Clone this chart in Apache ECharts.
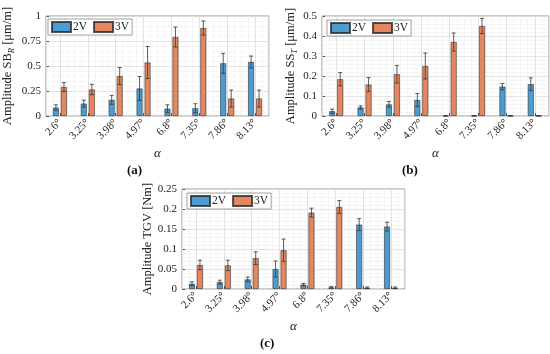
<!DOCTYPE html>
<html><head><meta charset="utf-8">
<script src="https://cdn.jsdelivr.net/npm/echarts@6/dist/echarts.min.js"></script>
<style>html,body{margin:0;padding:0;background:#fff}#c{width:550px;height:354px}</style>
</head><body><div id="c"></div>
<script>
const categories = ["2.6°","3.25°","3.98°","4.97°","6.8°","7.35°","7.86°","8.13°"];
const seriesNames = ["2V","3V"];

const sbr2 = [0.084,0.124,0.162,0.275,0.074,0.078,0.527,0.540];
const sbr2Err = [0.028,0.035,0.045,0.120,0.038,0.045,0.100,0.060];
const sbr3 = [0.290,0.265,0.400,0.535,0.790,0.880,0.175,0.175];
const sbr3Err = [0.045,0.052,0.085,0.160,0.100,0.070,0.085,0.085];

const sst2 = [0.024,0.043,0.058,0.080,0.001,0.001,0.147,0.159];
const sst2Err = [0.010,0.008,0.014,0.032,0.001,0.001,0.016,0.032];
const sst3 = [0.184,0.157,0.209,0.250,0.370,0.450,0.001,0.001];
const sst3Err = [0.033,0.035,0.044,0.065,0.045,0.038,0.001,0.001];

const tgv2 = [0.013,0.017,0.024,0.050,0.011,0.004,0.161,0.156];
const tgv2Err = [0.005,0.005,0.006,0.020,0.003,0.002,0.015,0.011];
const tgv3 = [0.060,0.059,0.077,0.097,0.191,0.205,0.003,0.003];
const tgv3Err = [0.012,0.013,0.016,0.028,0.011,0.016,0.002,0.002];

const FONT = 'Liberation Serif';
const C2 = '#4d9cd1', C3 = '#e4875e';
const BW = 6, GAP = 2;

const panels = [
  {grid:{left:46, top:16, width:223, height:100}, max:1, interval:0.25,
   name:'{t|Amplitude SB}{s|R}{t| [μm/m]}', nameGap:30,
   v2:sbr2, e2:sbr2Err, v3:sbr3, e3:sbr3Err,
   legend:{left:48, top:19}, cap:'(a)', capX:137, capY:172},
  {grid:{left:322, top:16, width:227, height:100}, max:0.5, interval:0.1,
   name:'{t|Amplitude SS}{s|T}{t| [μm/m]}', nameGap:23,
   v2:sst2, e2:sst2Err, v3:sst3, e3:sst3Err,
   legend:{left:327, top:20}, cap:'(b)', capX:412, capY:172},
  {grid:{left:182, top:189, width:223, height:100}, max:0.25, interval:0.05,
   name:'{t|Amplitude TGV [Nm]}', nameGap:28,
   v2:tgv2, e2:tgv2Err, v3:tgv3, e3:tgv3Err,
   legend:{left:187, top:193}, cap:'(c)', capX:270, capY:345}
];

function errRender(offset){
  return function(params, api){
    const c = api.value(0);
    const x = api.coord([c, 0])[0] + offset;
    const lo = api.coord([c, api.value(1)])[1];
    const hi = api.coord([c, api.value(2)])[1];
    const cw = 2;
    const st = {stroke:'#333', lineWidth:0.8};
    return {type:'group', children:[
      {type:'line', shape:{x1:x,y1:lo,x2:x,y2:hi}, style:st},
      {type:'line', shape:{x1:x-cw,y1:hi,x2:x+cw,y2:hi}, style:st},
      {type:'line', shape:{x1:x-cw,y1:lo,x2:x+cw,y2:lo}, style:st}
    ]};
  };
}

const option = {animation:false, backgroundColor:'#fff',
  grid:[], xAxis:[], yAxis:[], series:[], legend:[], graphic:[]};

panels.forEach((p, k) => {
  option.grid.push(Object.assign({show:true, borderColor:'#7a7a7a', borderWidth:0.8, backgroundColor:'#fff'}, p.grid));
  // category axis
  option.xAxis.push({type:'category', gridIndex:k, data:categories,
    name:'α', nameLocation:'middle', nameGap:31,
    nameTextStyle:{fontFamily:FONT, fontStyle:'italic', fontSize:13, color:'#222'},
    axisLine:{show:false},
    axisTick:{show:true, alignWithLabel:true, inside:true, length:3, lineStyle:{color:'#555'}},
    splitLine:{show:true, alignWithLabel:true, lineStyle:{color:'#dcdcdc', width:0.8}},
    axisLabel:{rotate:45, margin:5, fontFamily:FONT, fontSize:11, color:'#222'},
    z:3});
  // minor vertical grid helper
  option.xAxis.push({type:'value', gridIndex:k, min:0, max:8, interval:0.25, show:true,
    position:'top', axisLine:{show:false}, axisTick:{show:false}, axisLabel:{show:false},
    splitLine:{show:true, lineStyle:{color:'#eeeeee', width:0.6}}, z:1});
  option.yAxis.push({type:'value', gridIndex:k, min:0, max:p.max, interval:p.interval,
    name:p.name, nameLocation:'middle', nameRotate:90, nameGap:p.nameGap,
    nameTextStyle:{rich:{
      t:{fontFamily:FONT, fontSize:12.5, color:'#222'},
      s:{fontFamily:FONT, fontSize:8.5, color:'#222', fontStyle:'italic', verticalAlign:'bottom', padding:[7,0,0,0]}
    }},
    axisLine:{show:false},
    axisTick:{show:true, inside:true, length:3, lineStyle:{color:'#555'}},
    axisLabel:{fontFamily:FONT, fontSize:11, color:'#222', margin:5},
    splitLine:{show:true, lineStyle:{color:'#dcdcdc', width:0.8}},
    minorTick:{show:false, splitNumber:5},
    minorSplitLine:{show:true, lineStyle:{color:'#f0f0f0', width:0.6}}});
  const xi = 2*k;
  option.series.push({type:'bar', name:'2V', xAxisIndex:xi, yAxisIndex:k, data:p.v2,
    barWidth:BW, barGap:(GAP/BW*100)+'%',
    itemStyle:{color:C2, borderColor:'rgba(30,30,30,0.75)', borderWidth:0.7}, z:4});
  option.series.push({type:'bar', name:'3V', xAxisIndex:xi, yAxisIndex:k, data:p.v3,
    barWidth:BW, barGap:(GAP/BW*100)+'%',
    itemStyle:{color:C3, borderColor:'rgba(30,30,30,0.75)', borderWidth:0.7}, z:4});
  option.series.push({type:'custom', xAxisIndex:xi, yAxisIndex:k, silent:true, z:6,
    renderItem:errRender(-(BW+GAP)/2), encode:{x:0, y:[1,2]},
    data:p.v2.map((v,i)=>[i, v-p.e2[i], v+p.e2[i]])});
  option.series.push({type:'custom', xAxisIndex:xi, yAxisIndex:k, silent:true, z:6,
    renderItem:errRender((BW+GAP)/2), encode:{x:0, y:[1,2]},
    data:p.v3.map((v,i)=>[i, v-p.e3[i], v+p.e3[i]])});
  option.legend.push({left:p.legend.left, top:p.legend.top, data:seriesNames, icon:'rect',
    orient:'horizontal', itemWidth:19, itemHeight:10, itemGap:6,
    padding:[2,3,2,3], borderColor:'#8a8a8a', borderWidth:0.8, backgroundColor:'#fff',
    textStyle:{fontFamily:FONT, fontSize:11.5, color:'#222', padding:[0,0,0,-3]}, selectedMode:false});
  option.graphic.push({type:'text', left:p.capX-10, top:p.capY-8,
    style:{text:p.cap, fontFamily:FONT, fontWeight:'bold', fontSize:13, fill:'#111'}});
});

const chart = echarts.init(document.getElementById('c'), null, {renderer:'canvas'});
chart.setOption(option);
</script>
</body></html>
